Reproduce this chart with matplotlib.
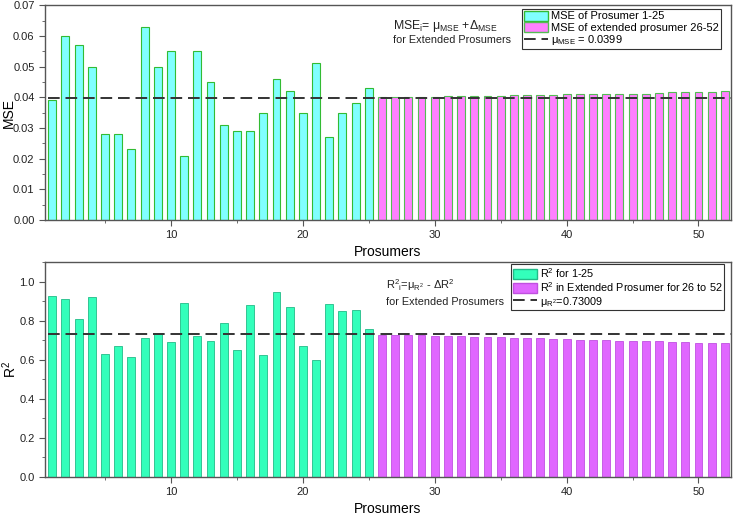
import matplotlib
matplotlib.use("Agg")
import matplotlib.pyplot as plt
from matplotlib.lines import Line2D
from matplotlib.patches import Patch
from matplotlib.ticker import MultipleLocator, FormatStrFormatter

plt.rcParams['font.family'] = ['Liberation Sans', 'DejaVu Sans']
plt.rcParams['mathtext.fontset'] = 'custom'
plt.rcParams['mathtext.rm'] = 'Liberation Sans'
plt.rcParams['mathtext.it'] = 'Liberation Sans'
plt.rcParams['mathtext.bf'] = 'Liberation Sans:bold'

prosumers_a = list(range(1, 26))
prosumers_b = list(range(26, 53))

mse_a = [0.039, 0.060, 0.057, 0.050, 0.028, 0.028, 0.023, 0.063, 0.050, 0.055,
         0.021, 0.055, 0.045, 0.031, 0.029, 0.029, 0.035, 0.046, 0.042, 0.035,
         0.051, 0.027, 0.035, 0.038, 0.043]
mse_b = [0.0400, 0.0400, 0.0400, 0.0401, 0.0401, 0.0403, 0.0403, 0.0404, 0.0404,
         0.0404, 0.0406, 0.0407, 0.0407, 0.0407, 0.0409, 0.0409, 0.0410, 0.0410,
         0.0410, 0.0411, 0.0412, 0.0414, 0.0416, 0.0417, 0.0418, 0.0418, 0.0419]
mse_mean = 0.0399

r2_a = [0.928, 0.911, 0.809, 0.923, 0.630, 0.668, 0.615, 0.712, 0.736, 0.693,
        0.889, 0.722, 0.697, 0.789, 0.649, 0.881, 0.625, 0.945, 0.869, 0.668,
        0.601, 0.886, 0.847, 0.853, 0.758]
r2_b = [0.7283, 0.7266, 0.7249, 0.7249, 0.7232, 0.7215, 0.7198, 0.7181, 0.7164,
        0.7147, 0.7130, 0.7113, 0.7096, 0.7062, 0.7045, 0.7028, 0.7011, 0.6994,
        0.6977, 0.6960, 0.6960, 0.6943, 0.6926, 0.6909, 0.6875, 0.6858, 0.6858]
r2_mean = 0.73009

fig = plt.figure(figsize=(7.33, 5.16), dpi=100)
ax1 = fig.add_axes([0.0614, 0.5736, 0.9356, 0.4164])
ax2 = fig.add_axes([0.0614, 0.0756, 0.9356, 0.4166])

spine_c = '#555555'
bw = 0.6
dash = (0, (6, 3))

def style(ax, ylab_x):
    for s in ax.spines.values():
        s.set_color(spine_c)
        s.set_linewidth(1.0)
    ax.tick_params(axis='both', which='both', direction='out', colors=spine_c,
                   labelcolor='#222222', labelsize=8)
    ax.tick_params(which='major', length=4)
    ax.tick_params(which='minor', length=2.5)
    ax.set_xlim(0.45, 52.45)
    ax.xaxis.set_major_locator(MultipleLocator(10))
    ax.xaxis.set_minor_locator(MultipleLocator(5))
    ax.set_xlabel('Prosumers', fontsize=10, labelpad=3)
    ax.yaxis.set_label_coords(ylab_x, 0.5)

# Top panel
ax1.bar(prosumers_a, mse_a, width=bw, color='#80FFFF', edgecolor='#33BB33', linewidth=0.8)
ax1.bar(prosumers_b, mse_b, width=bw, color='#FF80FF', edgecolor='#55BB55', linewidth=0.8)
ax1.hlines(mse_mean, 0.7, 52.45, colors='#333333', linestyles=dash, linewidth=1.4)
ax1.set_ylim(0, 0.07)
ax1.yaxis.set_major_locator(MultipleLocator(0.01))
ax1.yaxis.set_minor_locator(MultipleLocator(0.005))
ax1.yaxis.set_major_formatter(FormatStrFormatter('%.2f'))
ax1.set_ylabel('MSE', fontsize=10)
style(ax1, -0.043)
h1 = [Patch(facecolor='#80FFFF', edgecolor='#33BB33'),
      Patch(facecolor='#FF80FF', edgecolor='#55BB55'),
      Line2D([], [], color='#333333', linestyle=dash, linewidth=1.4)]
l1 = ['MSE of Prosumer 1-25', 'MSE of extended prosumer 26-52', r'$\mu_{MSE}$ = 0.0399']
leg1 = ax1.legend(h1, l1, loc='upper left', bbox_to_anchor=(0.696, 0.982), fontsize=8.0,
                  frameon=True, fancybox=False, edgecolor='#333333', framealpha=1,
                  handlelength=2.2, handleheight=1.0, borderpad=0.15, labelspacing=0.05,
                  handletextpad=0.25, borderaxespad=0.0)
leg1.get_frame().set_linewidth(0.8)
ax1.text(0.507, 0.904, r'MSE$_{i}$= $\mu_{MSE}$ +$\Delta_{MSE}$', transform=ax1.transAxes,
         fontsize=8.8, va='center', ha='left', color='#222222')
ax1.text(0.508, 0.837, 'for Extended Prosumers', transform=ax1.transAxes,
         fontsize=7.8, va='center', ha='left', color='#222222')

# Bottom panel
ax2.bar(prosumers_a, r2_a, width=bw, color='#33FFBB', edgecolor='#22BB88', linewidth=0.6)
ax2.bar(prosumers_b, r2_b, width=bw, color='#E066FF', edgecolor='#C050E0', linewidth=0.6)
ax2.hlines(r2_mean, 0.7, 52.45, colors='#333333', linestyles=dash, linewidth=1.4)
ax2.set_ylim(0, 1.1)
ax2.yaxis.set_major_locator(MultipleLocator(0.2))
ax2.yaxis.set_minor_locator(MultipleLocator(0.1))
ax2.yaxis.set_major_formatter(FormatStrFormatter('%.1f'))
ax2.set_ylabel(r'R$^2$', fontsize=10)
style(ax2, -0.038)
h2 = [Patch(facecolor='#33FFBB', edgecolor='#22BB88'),
      Patch(facecolor='#E066FF', edgecolor='#C050E0'),
      Line2D([], [], color='#333333', linestyle=dash, linewidth=1.4)]
l2 = [r'R$^2$ for 1-25', r'R$^2$ in Extended Prosumer for 26 to 52', r'$\mu_{R^2}$=0.73009']
leg2 = ax2.legend(h2, l2, loc='upper left', bbox_to_anchor=(0.680, 0.99), fontsize=7.85,
                  frameon=True, fancybox=False, edgecolor='#333333', framealpha=1,
                  handlelength=2.2, handleheight=1.0, borderpad=0.15, labelspacing=0.05,
                  handletextpad=0.25, borderaxespad=0.0)
leg2.get_frame().set_linewidth(0.8)
ax2.text(0.497, 0.893, r'R$^2$$_{i}$=$\mu_{R^2}$ - $\Delta$R$^2$', transform=ax2.transAxes,
         fontsize=8, va='center', ha='left', color='#222222')
ax2.text(0.497, 0.814, 'for Extended Prosumers', transform=ax2.transAxes,
         fontsize=7.8, va='center', ha='left', color='#222222')

fig.savefig('out.png', dpi=100)
